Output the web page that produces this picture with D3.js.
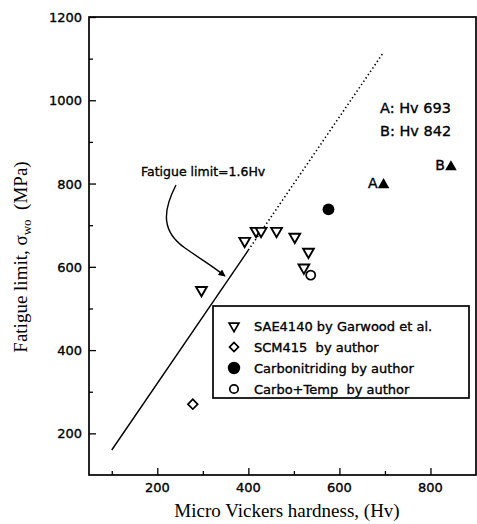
<!DOCTYPE html>
<html>
<head>
<meta charset="utf-8">
<script src="https://cdn.jsdelivr.net/npm/d3@7"></script>
<style>
  body { margin: 0; background: #fff; }
  svg { display: block; }
  .tick line { stroke: #000; stroke-width: 1.3; }
  .sans { font-family: "DejaVu Sans", sans-serif; fill: #000; stroke: #000; stroke-width: 0.35; }
</style>
</head>
<body>
<svg width="477" height="524"></svg>
<script>
// values (Hv, MPa)
const saeHv = [297, 392, 417, 428, 462, 502, 532, 522];
const saeS = [544, 662, 686, 686, 686, 672, 636, 598];
const scmHv = [278];
const scmS = [270];
const nitrHv = [576];
const nitrS = [738];
const carboHv = [537];
const carboS = [580];
const markLabels = ["A", "B"];
const markHv = [697, 845];
const markS = [797, 840];
const noteHv = [693, 842];
const legendLabels = [
  "SAE4140 by Garwood et al.",
  "SCM415  by author",
  "Carbonitriding by author",
  "Carbo+Temp  by author"
];
const xTicks = [200, 400, 600, 800];
const xMinor = [100, 300, 500, 700];
const yTicks = [200, 400, 600, 800, 1000, 1200];
const yMinor = [300, 500, 700, 900, 1100];
const slope = 1.6;
const solidRange = [100, 400];
const dottedRange = [400, 695];

const svg = d3.select("svg");
const width = +svg.attr("width");
const height = +svg.attr("height");
const margin = { top: 17, right: 1, bottom: 49, left: 89 };
const innerWidth = width - margin.left - margin.right;
const innerHeight = height - margin.top - margin.bottom;

// scales in page coordinates
const x = d3.scaleLinear().domain([50, 900]).range([margin.left, margin.left + innerWidth]);
const y = d3.scaleLinear().domain([100, 1200]).range([margin.top + innerHeight, margin.top]);

// axes: inward ticks only, labels placed separately
svg.append("g")
  .attr("transform", `translate(0, ${margin.top + innerHeight})`)
  .call(d3.axisBottom(x).tickValues(xTicks).tickSize(-7).tickFormat(""));
svg.append("g")
  .attr("transform", `translate(0, ${margin.top + innerHeight})`)
  .call(d3.axisBottom(x).tickValues(xMinor).tickSize(-4).tickFormat(""));
svg.append("g")
  .attr("transform", `translate(${margin.left}, 0)`)
  .call(d3.axisLeft(y).tickValues(yTicks).tickSize(-7).tickFormat(""));
svg.append("g")
  .attr("transform", `translate(${margin.left}, 0)`)
  .call(d3.axisLeft(y).tickValues(yMinor).tickSize(-4).tickFormat(""));
svg.selectAll(".tick text").remove();
svg.selectAll(".domain").remove();

svg.selectAll(".xlabel")
  .data(xTicks)
  .enter()
  .append("text")
  .attr("class", "sans")
  .attr("x", (d) => x(d))
  .attr("y", margin.top + innerHeight + 17)
  .attr("text-anchor", "middle")
  .attr("font-size", 13)
  .text((d) => d);

svg.selectAll(".ylabel")
  .data(yTicks)
  .enter()
  .append("text")
  .attr("class", "sans")
  .attr("x", margin.left - 7)
  .attr("y", (d) => y(d) + 5)
  .attr("text-anchor", "end")
  .attr("font-size", 13)
  .text((d) => d);

// frame
svg.append("rect")
  .attr("x", margin.left)
  .attr("y", margin.top)
  .attr("width", innerWidth)
  .attr("height", innerHeight)
  .attr("fill", "none")
  .attr("stroke", "#000")
  .attr("stroke-width", 1.7);

// fatigue limit = 1.6 Hv
const line = d3.line().x((d) => x(d)).y((d) => y(slope * d));
svg.append("path")
  .attr("d", line(solidRange))
  .attr("fill", "none")
  .attr("stroke", "#000")
  .attr("stroke-width", 1.4);
svg.append("path")
  .attr("d", line(dottedRange))
  .attr("fill", "none")
  .attr("stroke", "#000")
  .attr("stroke-width", 1.6)
  .attr("stroke-dasharray", "1.4,2.6");

// annotation with curved arrow
svg.append("defs").append("marker")
  .attr("id", "head")
  .attr("viewBox", "0 0 10 10")
  .attr("refX", 9)
  .attr("refY", 5)
  .attr("markerWidth", 9)
  .attr("markerHeight", 7)
  .attr("markerUnits", "userSpaceOnUse")
  .attr("orient", "auto")
  .append("path")
  .attr("d", "M0,0L10,5L0,10z")
  .attr("fill", "#000");

svg.append("text")
  .attr("class", "sans")
  .attr("x", 141)
  .attr("y", 176)
  .attr("font-size", 12.5)
  .text("Fatigue limit=1.6Hv");

svg.append("path")
  .attr("d", "M176,185 C162,212 162,232 185,248 S212,266 225,276")
  .attr("fill", "none")
  .attr("stroke", "#000")
  .attr("stroke-width", 1.4)
  .attr("marker-end", "url(#head)");

// symbols
const triDown = d3.symbol().type(d3.symbolTriangle).size(50);
const triUp = d3.symbol().type(d3.symbolTriangle).size(58);
const square = d3.symbol().type(d3.symbolSquare).size(48);
const circleBig = d3.symbol().type(d3.symbolCircle).size(110);
const circleOpen = d3.symbol().type(d3.symbolCircle).size(66);

svg.selectAll(".sae")
  .data(saeHv)
  .enter()
  .append("path")
  .attr("d", triDown())
  .attr("transform", (d, i) => `translate(${x(d)}, ${y(saeS[i])}) rotate(180)`)
  .attr("fill", "#fff")
  .attr("stroke", "#000")
  .attr("stroke-width", 1.9);

svg.selectAll(".scm")
  .data(scmHv)
  .enter()
  .append("path")
  .attr("d", square())
  .attr("transform", (d, i) => `translate(${x(d)}, ${y(scmS[i])}) rotate(45)`)
  .attr("fill", "#fff")
  .attr("stroke", "#000")
  .attr("stroke-width", 1.7);

svg.selectAll(".nitr")
  .data(nitrHv)
  .enter()
  .append("path")
  .attr("d", circleBig())
  .attr("transform", (d, i) => `translate(${x(d)}, ${y(nitrS[i])})`)
  .attr("fill", "#000");

svg.selectAll(".carbo")
  .data(carboHv)
  .enter()
  .append("path")
  .attr("d", circleOpen())
  .attr("transform", (d, i) => `translate(${x(d)}, ${y(carboS[i])})`)
  .attr("fill", "none")
  .attr("stroke", "#000")
  .attr("stroke-width", 1.7);

svg.selectAll(".mark")
  .data(markHv)
  .enter()
  .append("path")
  .attr("d", triUp())
  .attr("transform", (d, i) => `translate(${x(d)}, ${y(markS[i])})`)
  .attr("fill", "#000");
svg.selectAll(".marklabel")
  .data(markHv)
  .enter()
  .append("text")
  .attr("class", "sans")
  .attr("x", (d) => x(d) - 6)
  .attr("y", (d, i) => y(markS[i]) + 3)
  .attr("text-anchor", "end")
  .attr("font-size", 14)
  .text((d, i) => markLabels[i]);

svg.selectAll(".hvnote")
  .data(noteHv)
  .enter()
  .append("text")
  .attr("class", "sans")
  .attr("x", 380)
  .attr("y", (d, i) => 113 + i * 23)
  .attr("font-size", 14.5)
  .text((d, i) => `${markLabels[i]}: Hv ${d}`);

// legend
const legend = svg.append("g").attr("transform", "translate(213, 306)");
legend.append("rect")
  .attr("width", 256)
  .attr("height", 92)
  .attr("fill", "#fff")
  .attr("stroke", "#000")
  .attr("stroke-width", 1.7);
const legendSymbols = [
  { d: d3.symbol().type(d3.symbolTriangle).size(42)(), rot: 180, fill: "#fff" },
  { d: d3.symbol().type(d3.symbolSquare).size(40)(), rot: 45, fill: "#fff" },
  { d: d3.symbol().type(d3.symbolCircle).size(90)(), rot: 0, fill: "#000" },
  { d: d3.symbol().type(d3.symbolCircle).size(56)(), rot: 0, fill: "#fff" }
];
const rows = legend.selectAll(".row")
  .data(legendLabels)
  .enter()
  .append("g")
  .attr("transform", (d, i) => `translate(0, ${20 + i * 21})`);
rows.append("path")
  .attr("d", (d, i) => legendSymbols[i].d)
  .attr("transform", (d, i) => `translate(21, 0) rotate(${legendSymbols[i].rot})`)
  .attr("fill", (d, i) => legendSymbols[i].fill)
  .attr("stroke", "#000")
  .attr("stroke-width", 1.7);
rows.append("text")
  .attr("class", "sans")
  .attr("x", 41)
  .attr("y", 5)
  .attr("font-size", 13)
  .style("white-space", "pre")
  .text((d) => d);

// axis titles
svg.append("text")
  .attr("x", 287)
  .attr("y", 517)
  .attr("text-anchor", "middle")
  .attr("font-family", "Liberation Serif, Times New Roman, serif")
  .attr("font-size", 19)
  .text("Micro Vickers hardness, (Hv)");

const yTitle = svg.append("text")
  .attr("transform", "translate(27, 257) rotate(-90)")
  .attr("text-anchor", "middle")
  .attr("font-family", "Liberation Serif, Times New Roman, serif")
  .attr("font-size", 19);
yTitle.append("tspan").text("Fatigue limit, σ");
yTitle.append("tspan").attr("font-size", 13).attr("dy", 4).text("wo");
yTitle.append("tspan").attr("dy", -4).style("white-space", "pre").text("  (MPa)");
</script>
</body>
</html>
